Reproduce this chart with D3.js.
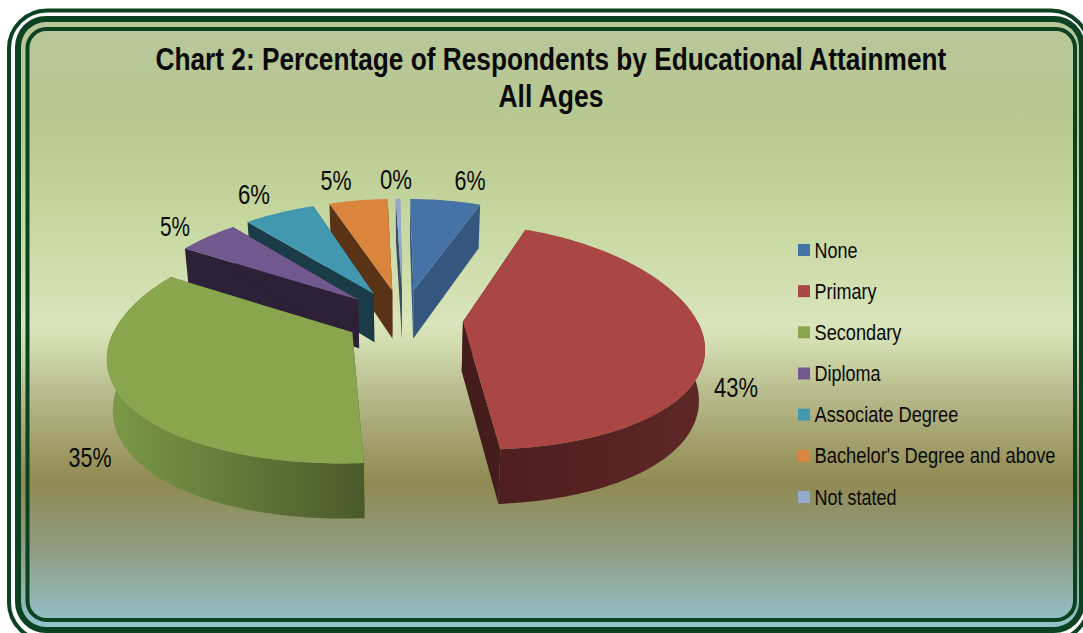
<!DOCTYPE html>
<html>
<head>
<meta charset="utf-8">
<title>Chart 2</title>
<script src="https://cdn.jsdelivr.net/npm/d3@7/dist/d3.min.js"></script>
<style>
html,body{margin:0;padding:0;background:#fff;overflow:hidden}
svg{display:block}
text{font-family:"Liberation Sans",Arial,sans-serif;fill:#0a0a0a}
</style>
</head>
<body>
<svg id="chart" width="1083" height="633"></svg>
<script>
// Survey shares, in percent
const categories = ["None","Primary","Secondary","Diploma","Associate Degree","Bachelor's Degree and above","Not stated"];
const shares = [6, 43, 35, 5, 6, 5, 0.4];
const shareLabels = ["6%","43%","35%","5%","6%","5%","0%"];

const topColors  = ["#4572a7","#aa4643","#89a54e","#71588f","#4198af","#db843d","#93a9cf"];
const sideColors = ["#35567f","#451c1c","#4c5e2c","#2d2138","#1a3c48","#5a3316","#3b4a66"];
// Outer rim shading, left to right across each slice's visible rim
const rimLight   = ["#35567f","#4e1e1e","#7c9947","#2d2138","#1a3c48","#5a3316","#3b4a66"];
const rimDark    = ["#35567f","#5e2826","#4a5a2a","#2d2138","#1a3c48","#5a3316","#3b4a66"];

// How far each slice is pulled out from the centre, as a fraction of the radius
const pullOut = [0.258,0.258,0.25,0.258,0.258,0.258,0.258];

// Where each percentage sits (text centre, baseline) and how wide it is set
const labelSpots = [[470,190],[736,397],[90,467],[175,236],[254,204],[336,190],[396,189]];
const labelWidths = [31,44,43,30,32,31,32];
const legendWidths = [43,62,87,66,144,241,82];

const svg = d3.select("#chart");
const defs = svg.append("defs");

// Panel background
const bgStops = [
  [0,"#b7c79a"],[0.17,"#b7c890"],[0.30,"#c3d59c"],[0.50,"#d9e5ba"],
  [0.53,"#d3deb0"],[0.62,"#b6b98a"],[0.76,"#908a52"],[0.87,"#8f9c80"],[1,"#93c3cb"]
];
defs.append("linearGradient").attr("id","panelFill")
  .attr("x1",0).attr("y1",0).attr("x2",0).attr("y2",1)
  .selectAll("stop").data(bgStops).join("stop")
  .attr("offset",d=>d[0]).attr("stop-color",d=>d[1]);

const frame = "#0b4222";
svg.append("rect").attr("x",9).attr("y",10.5).attr("width",1080).attr("height",630)
  .attr("rx",38).attr("fill","none").attr("stroke",frame).attr("stroke-width",4);
svg.append("rect").attr("x",15).attr("y",16).attr("width",1070).attr("height",617)
  .attr("rx",31).attr("fill",frame);
svg.append("rect").attr("x",21).attr("y",22).attr("width",1058).attr("height",605)
  .attr("rx",25).attr("fill","url(#panelFill)");
svg.append("rect").attr("x",27.5).attr("y",29).attr("width",1047.5).attr("height",591)
  .attr("rx",19).attr("fill","none").attr("stroke",frame).attr("stroke-width",4);

// Places a text at (x, baseline y), squeezed horizontally to the given width
function placeFitted(parent, str, x, y, width){
  const t = parent.append("text").text(str);
  const natural = t.node().getComputedTextLength();
  t.attr("transform",`translate(${x},${y}) scale(${width/natural},1)`);
  return t;
}

// Title
const titleG = svg.append("g").attr("font-weight","bold").attr("font-size",31.5);
placeFitted(titleG,"Chart 2: Percentage of Respondents by Educational Attainment",155.5,70,791);
placeFitted(titleG,"All Ages",498.5,107,105);

// Tilted, perspective projection of the pie's ground plane
const cx = 403, cy = 317.6, R = 233;
const depthY = 110, perspY = 0.13, perspX = 0.19, shear = 1.5;
function topPoint(X, Y){
  return [cx + X*R/(1 - perspX*Y) + shear*Y, cy + depthY*Y/(1 - perspY*Y)];
}
function basePoint(X, Y){
  const p = topPoint(X, Y);
  return [cx + (p[0]-cx)*0.98, p[1] + 49.5 + 5*Y];
}
const pie = d3.pie().sort(null).value(d=>d);
const arcs = pie(shares).map((d,i)=>({...d,i,mid:(d.startAngle+d.endAngle)/2}));
const line = d3.line();

function ground(d, a, r){
  const e = pullOut[d.i];
  return [e*Math.sin(d.mid) + r*Math.sin(a), -e*Math.cos(d.mid) - r*Math.cos(a)];
}
const faceAt = (d,a,r)=>topPoint(...ground(d,a,r));
const baseAt = (d,a,r)=>basePoint(...ground(d,a,r));
function sweep(a0,a1){
  const n = Math.max(2,Math.ceil((a1-a0)/0.02));
  return d3.range(n+1).map(k=>a0+(a1-a0)*k/n);
}

const pieG = svg.append("g");
// Back slices first so nearer ones paint over them
const ordered = arcs.slice().sort((a,b)=>(-Math.cos(a.mid))-(-Math.cos(b.mid)));
ordered.forEach(d=>{
  const g = pieG.append("g");
  const side = sideColors[d.i];
  [d.startAngle,d.endAngle].forEach(a=>{
    g.append("path").attr("fill",side)
      .attr("d",line([faceAt(d,a,0),faceAt(d,a,1),baseAt(d,a,1),baseAt(d,a,0)])+"Z");
  });
  const a0 = Math.max(d.startAngle,Math.PI/2), a1 = Math.min(d.endAngle,3*Math.PI/2);
  if (a1>a0){
    const angles = sweep(a0,a1);
    const pts = angles.map(a=>faceAt(d,a,1)).concat(angles.slice().reverse().map(a=>baseAt(d,a,1)));
    const xs = pts.map(p=>p[0]);
    const id = "rim"+d.i;
    const grad = defs.append("linearGradient").attr("id",id)
      .attr("gradientUnits","userSpaceOnUse")
      .attr("x1",d3.min(xs)).attr("x2",d3.max(xs)).attr("y1",0).attr("y2",0);
    grad.append("stop").attr("offset",0).attr("stop-color",rimLight[d.i]);
    grad.append("stop").attr("offset",1).attr("stop-color",rimDark[d.i]);
    g.append("path").attr("fill",`url(#${id})`).attr("d",line(pts)+"Z");
  }
  const outline = [faceAt(d,d.startAngle,0)].concat(sweep(d.startAngle,d.endAngle).map(a=>faceAt(d,a,1)));
  g.append("path").attr("fill",topColors[d.i]).attr("d",line(outline)+"Z");
});

// Percentage labels
const labelG = svg.append("g").attr("font-size",27.5);
shareLabels.forEach((t,i)=>{
  placeFitted(labelG,t,labelSpots[i][0]-labelWidths[i]/2,labelSpots[i][1],labelWidths[i]);
});

// Legend
const legendY = d3.scalePoint().domain(categories).range([250,497]);
const legend = svg.append("g").attr("font-size",22);
categories.forEach((c,i)=>{
  legend.append("rect").attr("x",798).attr("y",legendY(c)-6).attr("width",12).attr("height",12)
    .attr("fill",topColors[i]);
  placeFitted(legend,c,814.5,legendY(c)+7.5,legendWidths[i]);
});
</script>
</body>
</html>
